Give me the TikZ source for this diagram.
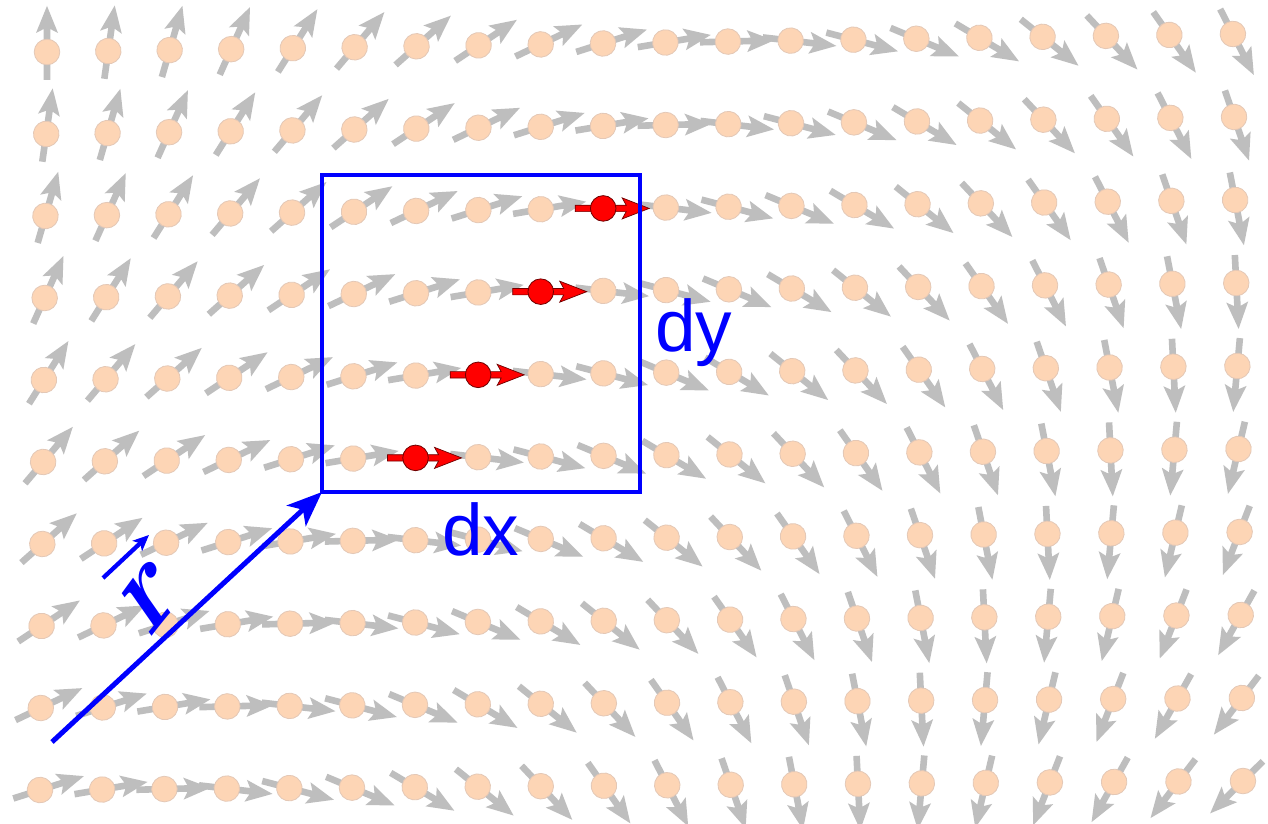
\documentclass[tikz,border=0pt]{standalone}
\usepackage{fontspec}
\newfontfamily\lsans{Liberation Sans}
\usetikzlibrary{arrows.meta}
\definecolor{peach}{RGB}{253,213,181}
\definecolor{peachedge}{RGB}{228,200,182}
\definecolor{arrgray}{RGB}{190,190,190}
\definecolor{darkred}{RGB}{110,0,0}
\tikzset{
  grayspin/.pic={
    \fill[arrgray] (-28,-3.3) -- (23,-3.3) -- (19,-11) -- (46,0) -- (19,11) -- (23,3.3) -- (-28,3.3) -- cycle;
    \filldraw[fill=peach, draw=peachedge, line width=0.8pt] (0,0) circle[radius=12.8];
  },
  redspin/.pic={
    \filldraw[fill=red, draw=darkred, line width=0.7pt, line join=miter] (-28,-3.2) -- (23,-3.2) -- (19,-10.5) -- (46,0) -- (19,10.5) -- (23,3.2) -- (-28,3.2) -- cycle;
    \filldraw[fill=red, draw=darkred, line width=0.8pt] (0,0) circle[radius=12.8];
  },
  bluelabel/.style={text=blue, inner sep=0pt, outer sep=0pt},
  boxstyle/.style={draw=blue, line width=3.3pt, inner sep=0pt, outer sep=0pt, minimum width=318pt, minimum height=317pt},
}
\begin{document}
\begin{tikzpicture}[x=1pt,y=1pt]
\useasboundingbox (0,0) rectangle (1268,823);
\fill[white] (0,0) rectangle (1268,823);
% vector field
\foreach \i in {0,...,19}{
  \foreach \j in {0,...,9}{
    \pgfmathsetmacro\vv{\j/9}
    \pgfmathsetmacro\xt{47+61.2*\i+0.064*\i*\i}
    \pgfmathsetmacro\xb{40+62.07*\i+0.0654*\i*\i}
    \pgfmathsetmacro\yt{771+18*\i/19}
    \pgfmathsetmacro\yb{33+9*\i/19}
    \pgfmathsetmacro\px{\xt+\vv*(\xb-\xt)}
    \pgfmathsetmacro\py{\yt+\vv*(\yb-\yt)}
    \pgfmathsetmacro\ang{90-8.05*(\i+\j)}
    \pgfmathtruncatemacro\ss{\i+\j}
    \pgfmathtruncatemacro\isred{(\ss==11)&&(\j>1)&&(\j<6)}
    \ifnum\isred=0
      \pic[rotate=\ang] at (\px,\py) {grayspin};
    \fi
  }
}
% red moments
\foreach \i/\j in {9/2,8/3,7/4,6/5}{
    \pgfmathsetmacro\vv{\j/9}
    \pgfmathsetmacro\xt{47+61.2*\i+0.064*\i*\i}
    \pgfmathsetmacro\xb{40+62.07*\i+0.0654*\i*\i}
    \pgfmathsetmacro\yt{771+18*\i/19}
    \pgfmathsetmacro\yb{33+9*\i/19}
    \pgfmathsetmacro\px{\xt+\vv*(\xb-\xt)}
    \pgfmathsetmacro\py{\yt+\vv*(\yb-\yt)}
    \pic at (\px,\py) {redspin};
}
% box and labels
\node[boxstyle] (box) at (481,489.5) {};
\node[bluelabel, font=\lsans\fontsize{73}{80}\selectfont, anchor=base west] (dx) at (442,268) {dx};
\node[bluelabel, font=\lsans\fontsize{73}{80}\selectfont, anchor=base west] (dy) at (655,471) {dy};
% position vector
\coordinate (origin) at (52,81);
\draw[blue, line width=5pt, -{Stealth[length=35pt,width=28pt,inset=9pt]}] (origin) -- (box.south west);
\coordinate (va) at (103,245);
\coordinate (vb) at (149,288);
\draw[blue, line width=4.3pt, -{Stealth[length=16pt,width=14pt,inset=4pt]}] (va) -- (vb);
\node[bluelabel, font=\fontsize{132}{140}\selectfont\bfseries, xscale=0.75, rotate=43] (rlabel) at (151,226) {r};
\end{tikzpicture}
\end{document}
